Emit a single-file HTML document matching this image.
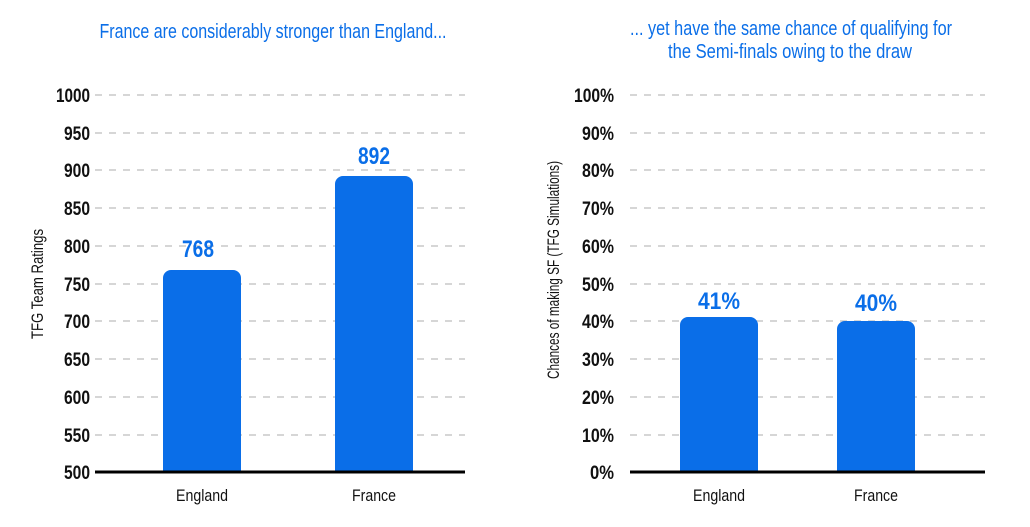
<!DOCTYPE html>
<html><head><meta charset="utf-8"><style>body{margin:0;background:#fff}svg{display:block}</style></head><body>
<svg width="1030" height="527" viewBox="0 0 1030 527" xmlns="http://www.w3.org/2000/svg" font-family="Liberation Sans, sans-serif">
<g fill="#0a6ee8" font-size="20">
<text x="273" y="38" text-anchor="middle" textLength="347" lengthAdjust="spacingAndGlyphs">France are considerably stronger than England...</text>
<text x="791" y="35" text-anchor="middle" textLength="322" lengthAdjust="spacingAndGlyphs">... yet have the same chance of qualifying for</text>
<text x="790" y="58" text-anchor="middle" textLength="244" lengthAdjust="spacingAndGlyphs">the Semi-finals owing to the draw</text>
</g>
<g stroke="#c8c8c8" stroke-width="1.5" stroke-dasharray="7,7">
<line x1="95" x2="465" y1="95" y2="95"/><line x1="95" x2="465" y1="133" y2="133"/><line x1="95" x2="465" y1="170" y2="170"/><line x1="95" x2="465" y1="208" y2="208"/><line x1="95" x2="465" y1="246" y2="246"/><line x1="95" x2="465" y1="284" y2="284"/><line x1="95" x2="465" y1="321" y2="321"/><line x1="95" x2="465" y1="359" y2="359"/><line x1="95" x2="465" y1="397" y2="397"/><line x1="95" x2="465" y1="435" y2="435"/>
<line x1="630" x2="985" y1="95" y2="95"/><line x1="630" x2="985" y1="133" y2="133"/><line x1="630" x2="985" y1="170" y2="170"/><line x1="630" x2="985" y1="208" y2="208"/><line x1="630" x2="985" y1="246" y2="246"/><line x1="630" x2="985" y1="284" y2="284"/><line x1="630" x2="985" y1="321" y2="321"/><line x1="630" x2="985" y1="359" y2="359"/><line x1="630" x2="985" y1="397" y2="397"/><line x1="630" x2="985" y1="435" y2="435"/>
</g>
<g fill="#0a6ee8">
<path d="M163 472V278a8 8 0 0 1 8-8h62a8 8 0 0 1 8 8V472z"/>
<path d="M335 472V184a8 8 0 0 1 8-8h62a8 8 0 0 1 8 8V472z"/>
<path d="M680 472V325a8 8 0 0 1 8-8h62a8 8 0 0 1 8 8V472z"/>
<path d="M837 472V329a8 8 0 0 1 8-8h62a8 8 0 0 1 8 8V472z"/>
</g>
<g stroke="#000" stroke-width="3"><line x1="95" x2="465" y1="472" y2="472"/><line x1="630" x2="985" y1="472" y2="472"/></g>
<g font-weight="bold" font-size="19" text-anchor="end" fill="#111" lengthAdjust="spacingAndGlyphs">
<text x="90" y="102" textLength="34" lengthAdjust="spacingAndGlyphs">1000</text><text x="90" y="140" textLength="26" lengthAdjust="spacingAndGlyphs">950</text><text x="90" y="177" textLength="26" lengthAdjust="spacingAndGlyphs">900</text><text x="90" y="215" textLength="26" lengthAdjust="spacingAndGlyphs">850</text><text x="90" y="253" textLength="26" lengthAdjust="spacingAndGlyphs">800</text><text x="90" y="291" textLength="26" lengthAdjust="spacingAndGlyphs">750</text><text x="90" y="328" textLength="26" lengthAdjust="spacingAndGlyphs">700</text><text x="90" y="366" textLength="26" lengthAdjust="spacingAndGlyphs">650</text><text x="90" y="404" textLength="26" lengthAdjust="spacingAndGlyphs">600</text><text x="90" y="442" textLength="26" lengthAdjust="spacingAndGlyphs">550</text><text x="90" y="479" textLength="26" lengthAdjust="spacingAndGlyphs">500</text>
<text x="614" y="102" textLength="40" lengthAdjust="spacingAndGlyphs">100%</text><text x="614" y="140" textLength="32" lengthAdjust="spacingAndGlyphs">90%</text><text x="614" y="177" textLength="32" lengthAdjust="spacingAndGlyphs">80%</text><text x="614" y="215" textLength="32" lengthAdjust="spacingAndGlyphs">70%</text><text x="614" y="253" textLength="32" lengthAdjust="spacingAndGlyphs">60%</text><text x="614" y="291" textLength="32" lengthAdjust="spacingAndGlyphs">50%</text><text x="614" y="328" textLength="32" lengthAdjust="spacingAndGlyphs">40%</text><text x="614" y="366" textLength="32" lengthAdjust="spacingAndGlyphs">30%</text><text x="614" y="404" textLength="32" lengthAdjust="spacingAndGlyphs">20%</text><text x="614" y="442" textLength="32" lengthAdjust="spacingAndGlyphs">10%</text><text x="614" y="479" textLength="24" lengthAdjust="spacingAndGlyphs">0%</text>
</g>
<g font-weight="bold" font-size="24" text-anchor="middle" fill="#0a6ee8">
<text x="198" y="257" textLength="32" lengthAdjust="spacingAndGlyphs">768</text><text x="374" y="164" textLength="32" lengthAdjust="spacingAndGlyphs">892</text><text x="719" y="309" textLength="42" lengthAdjust="spacingAndGlyphs">41%</text><text x="876" y="311" textLength="42" lengthAdjust="spacingAndGlyphs">40%</text>
</g>
<g font-size="17" text-anchor="middle" fill="#111">
<text x="202" y="501" textLength="52" lengthAdjust="spacingAndGlyphs">England</text><text x="374" y="501" textLength="44" lengthAdjust="spacingAndGlyphs">France</text>
<text x="719" y="501" textLength="52" lengthAdjust="spacingAndGlyphs">England</text><text x="876" y="501" textLength="44" lengthAdjust="spacingAndGlyphs">France</text>
<text transform="translate(43,284) rotate(-90)" textLength="110" lengthAdjust="spacingAndGlyphs">TFG Team Ratings</text>
<text transform="translate(559,270) rotate(-90)" textLength="218" lengthAdjust="spacingAndGlyphs">Chances of making SF (TFG Simulations)</text>
</g>
</svg>
</body></html>
